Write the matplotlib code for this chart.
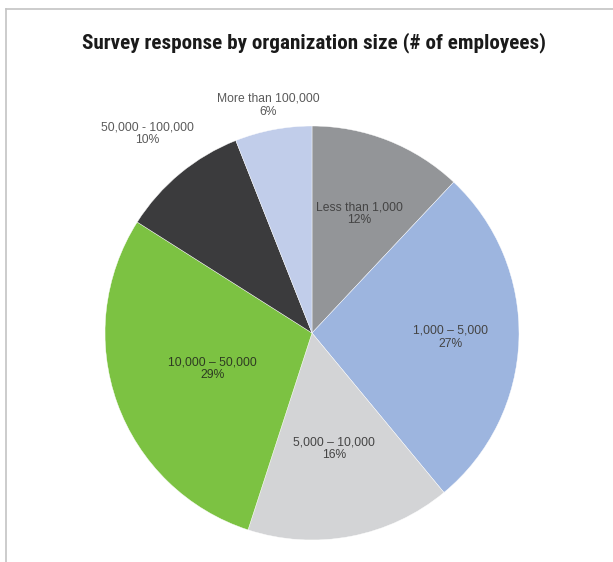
import matplotlib.pyplot as plt
import numpy as np
from matplotlib.lines import Line2D

# organization size buckets, clockwise from 12 o'clock
sizes = ["Less than 1,000", "1,000 \u2013 5,000", "5,000 \u2013 10,000",
         "10,000 \u2013 50,000", "50,000 - 100,000", "More than 100,000"]
shares = [12, 27, 16, 29, 10, 6]
colors = ["#939598", "#9db5df", "#d3d4d6", "#7cc242", "#3b3b3d", "#c1cdea"]
text_colors = ["#444444", "#444444", "#444444", "#2e3b22", "#5a5a5a", "#5a5a5a"]
label_radius = [0.62, 0.67, 0.57, 0.51, 1.25, 1.12]

title_font = ["Roboto Condensed", "Archivo Narrow", "Liberation Sans Narrow", "DejaVu Sans"]

fig = plt.figure(figsize=(6.13, 5.62), dpi=100)

# thin frame along the top and left edge
fig.add_artist(Line2D([6 / 613, 1], [1 - 9 / 562, 1 - 9 / 562],
                      color="#c4c4c4", lw=1.2, transform=fig.transFigure))
fig.add_artist(Line2D([6 / 613, 6 / 613], [0, 1 - 9 / 562],
                      color="#c4c4c4", lw=1.2, transform=fig.transFigure))

fig.text(314.5 / 613, 1 - 48 / 562, "Survey response by organization size (# of employees)",
         ha="center", va="baseline", fontsize=15.2, fontweight="semibold",
         family=title_font, color="#1a1a1a")

cx, cy, r = 312, 333, 207
ax = fig.add_axes([(cx - r) / 613, (562 - cy - r) / 562, 2 * r / 613, 2 * r / 562])
wedges, _ = ax.pie(shares, colors=colors, startangle=90, counterclock=False,
                   radius=1, wedgeprops=dict(edgecolor="white", linewidth=0.3))
ax.set_xlim(-1, 1)
ax.set_ylim(-1, 1)
ax.axis("off")

for w, name, pct, tc, lr in zip(wedges, sizes, shares, text_colors, label_radius):
    mid = np.deg2rad((w.theta1 + w.theta2) / 2)
    ax.text(lr * np.cos(mid), lr * np.sin(mid), f"{name}\n{pct}%",
            ha="center", va="center", fontsize=8.7, color=tc,
            family="Liberation Sans", linespacing=1.1)

fig.savefig("out.png", dpi=100)
